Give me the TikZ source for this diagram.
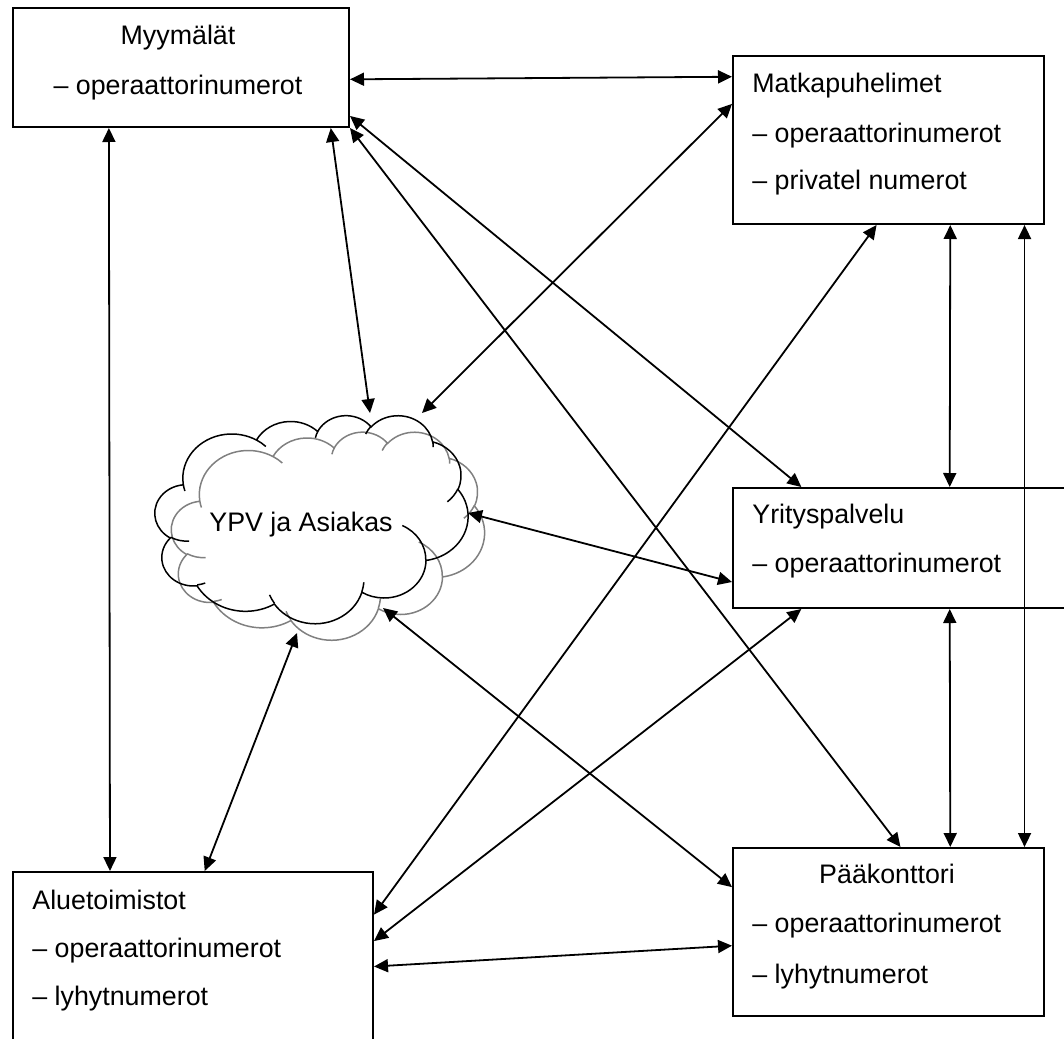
\documentclass[tikz,border=0pt]{standalone}
\usepackage{fontspec}
\setmainfont{Liberation Sans}
\usetikzlibrary{arrows.meta}

% one puff of the cloud: x radius, y radius, start angle, sweep
\newcommand\puff[4]{%
  \pgfmathsetmacro\puffa{atan2(#1*sin(#3),#2*cos(#3))}%
  \pgfmathsetmacro\puffb{atan2(#1*sin(#3+#4),#2*cos(#3+#4))}%
  \pgfmathsetmacro\puffd{mod(\puffb-(\puffa)+720,360)}%
  \xdef\cloudpath{\cloudpath arc[x radius=#1,y radius=#2,start angle=\puffa,delta angle=\puffd]}}

\begin{document}
\begin{tikzpicture}[x=0.5pt, y=-0.5pt, >={Triangle[length=7pt,width=6.5pt]},
  box/.style={draw, line width=1pt, inner sep=0pt, anchor=north west},
  txt/.style={font=\fontsize{13.4}{16}\selectfont, inner sep=0pt, anchor=base west},
  con/.style={<->, line width=0.9pt}]
\useasboundingbox (0,0) rectangle (1064,1038);

\node[box, minimum width=168pt, minimum height=59.5pt] (myy) at (12,7) {};
\node[box, minimum width=155.5pt, minimum height=84pt] (mat) at (732,55) {};
\node[box, minimum width=174pt, minimum height=60pt] (yri) at (732,487) {};
\node[box, minimum width=180pt, minimum height=94.5pt] (alu) at (12,871) {};
\node[box, minimum width=155.5pt, minimum height=84pt] (paa) at (732,847) {};

\node[txt, anchor=base] (myy1) at (178,45) {Myymälät};
\node[txt, anchor=base] (myy2) at (178,95) {– operaattorinumerot};
\node[txt] (mat1) at (752,93) {Matkapuhelimet};
\node[txt] (mat2) at (752,142) {– operaattorinumerot};
\node[txt] (mat3) at (752,189) {– privatel numerot};
\node[txt] (yri1) at (752,523) {Yrityspalvelu};
\node[txt] (yri2) at (752,572) {– operaattorinumerot};
\node[txt] (alu1) at (32,909) {Aluetoimistot};
\node[txt] (alu2) at (32,957) {– operaattorinumerot};
\node[txt] (alu3) at (32,1005) {– lyhytnumerot};
\node[txt, anchor=base] (paa1) at (887,883) {Pääkonttori};
\node[txt] (paa2) at (752,932) {– operaattorinumerot};
\node[txt] (paa3) at (752,983) {– lyhytnumerot};

% cloud outline and its inner curls
\gdef\cloudpath{(3.9,14.37)}
\foreach \w/\h/\s/\d in {6.753/9.19/-190.4875/123.7805, 5.333/7.267/-144.1024/89.9452,
  4.365/5.945/-145.8079/99.723, 4.857/6.595/-130.9861/117.2417, 5.333/7.273/-78.7089/109.0269,
  6.775/9.22/-46.2673/130.269, 5.785/7.867/0.625/114.0333, 6.752/9.215/22.4516/115.1726,
  7.72/10.543/66.2426/75.711, 4.36/5.918/-274.9421/146.7356, 4.345/5.945/-246.8285/152.5189}
  {\puff{\w}{\h}{\s}{\d}}
\xdef\cloudpath{\cloudpath -- cycle}
\foreach \px/\py/\w/\h/\s/\d in {4.693/26.177/4.345/5.945/86.742/26.4295,
  6.928/34.899/4.36/5.918/73.6105/11.4475, 16.478/39.09/6.752/9.215/137.6242/14.0811,
  28.827/34.751/6.752/9.215/6.4533/15.9984, 34.129/22.954/5.785/7.867/-70.2924/70.9174,
  41.798/15.354/5.333/7.273/30.318/27.7515, 38.324/5.426/4.857/6.595/-13.7443/14.8589,
  29.078/3.952/4.857/6.595/-149.1815/18.1954, 22.141/4.72/4.365/5.945/-163.4943/17.6864,
  14/5.192/6.753/9.19/-66.707/12.3194, 4.127/15.789/6.753/9.19/157.6544/11.8582}
  {\xdef\cloudpath{\cloudpath (\px,\py)}\puff{\w}{\h}{\s}{\d}}

\foreach \dd/\cc in {16.5/black!50, 0/black}
  \draw[\cc, line width=0.75pt, shift={(155+\dd,415+\dd)}, xscale=7.245, yscale=4.815] \cloudpath;
\node[txt, anchor=center] (ypv) at (301,525) {YPV ja Asiakas};

\coordinate (yc1) at (370,413);
\coordinate (yc2) at (422,413);
\coordinate (yc3) at (468,513);
\coordinate (yc4) at (383,608);
\coordinate (yc5) at (297,633);

\draw[con] (myy.-4.3) -- (mat.158.9);
\draw[con] (myy.-16.1) -- (yri.150.5);
\draw[con] (myy.south east) -- (paa.82.9);
\draw[con] (myy.-140.4) -- (alu.131.6);
\draw[con] (myy.-22.3) -- (yc1);
\draw[con] (mat.167) -- (yc2);
\draw[con] (mat.-98.5) -- (alu.16.6);
\draw[con] (mat.-54.2) -- (yri.55);
\draw[con] (mat.-32.4) -- (paa.32.4);
\draw[con] (yc3) -- (yri.-169.9);
\draw[con] (yc4) -- (paa.164.5);
\draw[con] (yc5) -- (alu.83.4);
\draw[con] (yri.-150) -- (alu.8.7);
\draw[con] (yri.-55) -- (paa.54.2);
\draw[con] (alu.east) -- (paa.-175.6);

\end{tikzpicture}
\end{document}
